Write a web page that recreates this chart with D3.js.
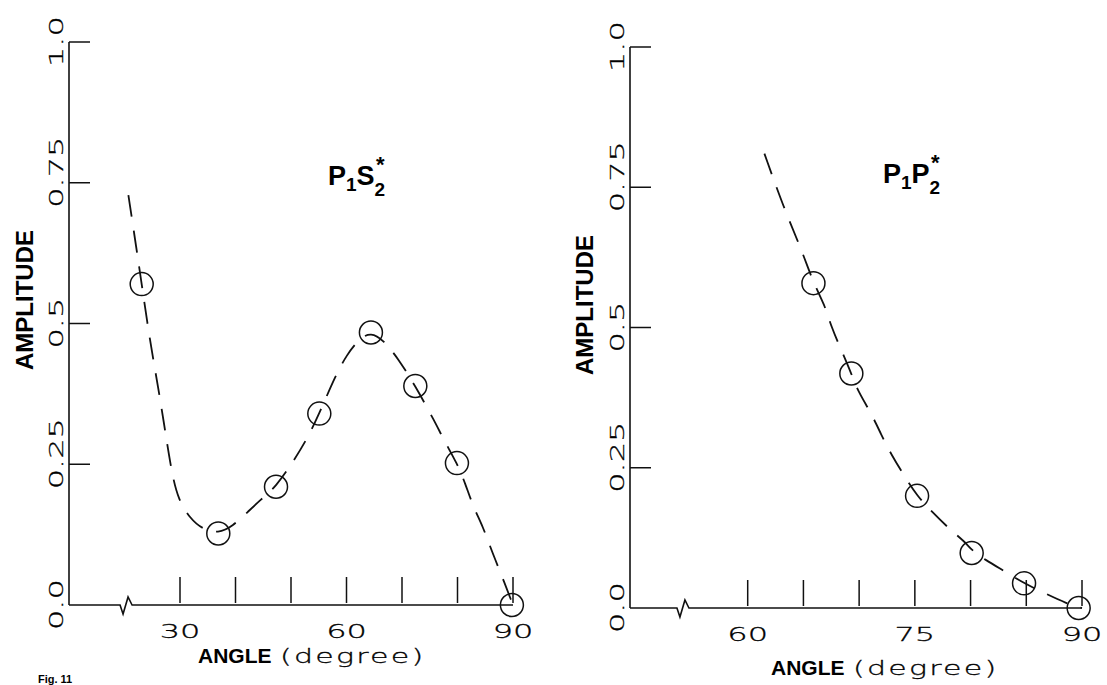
<!DOCTYPE html>
<html>
<head>
<meta charset="utf-8">
<script src="https://cdn.jsdelivr.net/npm/d3@7"></script>
<style>
  body { margin: 0; background: #fff; }
  .tick-label { font-family: "DejaVu Sans", sans-serif; font-weight: 200; font-size: 20px; fill: #000; stroke: #000; stroke-width: 0.3px; }
  .bold-label { font-family: "Liberation Sans", Arial, sans-serif; font-weight: bold; fill: #000; }
</style>
</head>
<body>
<div id="chart"></div>
<script>
// ---- left panel (P1S2*) ----
var leftPointAngle = [23.1, 36.9, 47.3, 55.1, 64.4, 72.4, 79.9, 89.8];
var leftPointAmp   = [0.57, 0.127, 0.21, 0.34, 0.484, 0.389, 0.252, 0.0];

var leftCurveAngle = [20.7, 22.2, 23.1, 24.6, 26.1, 27.3, 28.5, 29.7, 31.8, 34.0, 36.9, 39.5,
                      42.3, 44.4, 47.3, 50.4, 52.8, 55.1, 57.9, 60.0, 62.4, 64.4, 66.6, 69.3,
                      72.4, 75.9, 77.7, 79.9, 81.4, 82.8, 84.6, 86.2, 87.7, 90.0];
var leftCurveAmp   = [0.728, 0.63, 0.57, 0.468, 0.385, 0.311, 0.235, 0.187, 0.154, 0.135, 0.127, 0.14,
                      0.166, 0.186, 0.21, 0.255, 0.293, 0.34, 0.405, 0.444, 0.474, 0.484, 0.471, 0.438,
                      0.389, 0.326, 0.29, 0.252, 0.216, 0.175, 0.139, 0.095, 0.059, 0.0];

var leftXTicks  = [30, 40, 50, 60, 70, 80, 90];
var leftXLabels = [30, 60, 90];

// ---- right panel (P1P2*) ----
var rightPointAngle = [65.9, 69.3, 75.2, 80.1, 84.8, 89.7];
var rightPointAmp   = [0.579, 0.418, 0.2, 0.098, 0.044, 0.0];

var rightCurveAngle = [61.5, 63.2, 64.85, 65.9, 66.9, 67.5, 68.4, 69.3, 69.9, 71.1, 72.0, 72.9,
                       74.1, 75.2, 76.5, 78.2, 79.5, 80.1, 81.3, 83.1, 84.8, 86.7, 88.6, 90.0];
var rightCurveAmp   = [0.81, 0.715, 0.638, 0.579, 0.541, 0.501, 0.46, 0.418, 0.386, 0.347, 0.308, 0.273,
                       0.234, 0.2, 0.172, 0.139, 0.118, 0.103, 0.086, 0.065, 0.044, 0.026, 0.008, 0.0];

var rightXTicks  = [60, 65, 70, 75, 80, 85, 90];
var rightXLabels = [60, 75, 90];

// ---- shared y axis ----
var yTickValues = [0, 0.25, 0.5, 0.75, 1.0];
var yTickLabels = ["0.0", "0.25", "0.5", "0.75", "1.0"];

var svgWidth = 1107;
var svgHeight = 685;

var svg = d3.select("#chart")
  .append("svg")
  .attr("width", svgWidth)
  .attr("height", svgHeight)
  .style("background", "#fff");

function zip(a, b) {
  return a.map(function(v, i) { return { a: v, v: b[i] }; });
}

function drawPanel(p) {
  var x = d3.scaleLinear().domain(p.xDomain).range(p.xRange);
  var y = d3.scaleLinear().domain([0, 1]).range([p.y0, p.y1]);
  var g = svg.append("g");

  // y axis line + ticks pointing right
  g.append("line")
    .attr("x1", p.axisX).attr("x2", p.axisX)
    .attr("y1", y(0)).attr("y2", y(1))
    .attr("stroke", "#111").attr("stroke-width", 1.6);

  g.selectAll(".ytick").data(yTickValues.slice(1)).enter()
    .append("line")
    .attr("x1", p.axisX).attr("x2", p.axisX + 21)
    .attr("y1", d => y(d)).attr("y2", d => y(d))
    .attr("stroke", "#111").attr("stroke-width", 1.5);

  g.selectAll(".ylab").data(yTickValues).enter()
    .append("text")
    .attr("class", "tick-label")
    .attr("transform", d => `translate(${p.axisX - 6}, ${y(d) + 25}) rotate(-90) scale(1.6, 1)`)
    .attr("text-anchor", "start")
    .text((d, i) => yTickLabels[i]);

  // x axis line with a break
  var xEnd = x(90);
  var bx = x(p.breakAngle);
  var yb = y(0);
  g.append("path")
    .attr("d", `M${p.axisX},${yb}H${bx}L${bx + 3},${yb + 9}L${bx + 8},${yb - 8}L${bx + 12},${yb}H${xEnd}`)
    .attr("fill", "none").attr("stroke", "#111").attr("stroke-width", 1.6);

  g.selectAll(".xtick").data(p.xTicks).enter()
    .append("line")
    .attr("x1", d => x(d)).attr("x2", d => x(d))
    .attr("y1", yb - 2).attr("y2", yb - 28)
    .attr("stroke", "#111").attr("stroke-width", 1.5);

  g.selectAll(".xlab").data(p.xLabels).enter()
    .append("text")
    .attr("class", "tick-label")
    .attr("transform", d => `translate(${x(d)}, ${yb + 33}) scale(1.6, 1)`)
    .attr("text-anchor", "middle")
    .text(d => d);

  // dashed fitted curve
  var line = d3.line()
    .x(d => x(d.a))
    .y(d => y(d.v))
    .curve(d3.curveBasis);

  g.append("path")
    .datum(zip(p.curveAngle, p.curveAmp))
    .attr("d", line)
    .attr("fill", "none")
    .attr("stroke", "#111")
    .attr("stroke-width", 1.8)
    .attr("stroke-dasharray", "22,14");

  // open circles for the measured points
  g.selectAll(".pt").data(zip(p.pointAngle, p.pointAmp)).enter()
    .append("circle")
    .attr("cx", d => x(d.a))
    .attr("cy", d => y(d.v))
    .attr("r", 11.5)
    .attr("fill", "none")
    .attr("stroke", "#111")
    .attr("stroke-width", 1.5);

  // axis titles
  g.append("text")
    .attr("class", "bold-label")
    .attr("transform", `translate(${p.ampX}, ${p.ampY}) rotate(-90)`)
    .attr("text-anchor", "middle")
    .style("font-size", "24px")
    .text("AMPLITUDE");

  g.append("text")
    .attr("class", "bold-label")
    .attr("x", p.angleX).attr("y", p.angleY)
    .style("font-size", "21px")
    .text("ANGLE");

  g.append("text")
    .attr("class", "tick-label")
    .attr("transform", `translate(${p.angleX + 82}, ${p.angleY}) scale(1.5, 1)`)
    .style("letter-spacing", "1.5px")
    .text("(degree)");

  // panel title with sub/superscripts
  var t = g.append("text")
    .attr("class", "bold-label")
    .attr("x", p.titleX).attr("y", p.titleY)
    .style("font-size", "27px");
  t.append("tspan").text(p.title[0]);
  t.append("tspan").attr("dy", 6).style("font-size", "19px").text("1");
  t.append("tspan").attr("dy", -6).text(p.title[1]);
  t.append("tspan").attr("dy", 11).style("font-size", "19px").text("2");
  g.append("text")
    .attr("class", "bold-label")
    .attr("x", p.titleX + p.starDx).attr("y", p.titleY - 13)
    .style("font-size", "22px")
    .text("*");
}

drawPanel({
  axisX: 69, y0: 605, y1: 42,
  xDomain: [30, 90], xRange: [180, 513], breakAngle: 19.2,
  xTicks: leftXTicks, xLabels: leftXLabels,
  curveAngle: leftCurveAngle, curveAmp: leftCurveAmp,
  pointAngle: leftPointAngle, pointAmp: leftPointAmp,
  ampX: 33, ampY: 300, angleX: 198, angleY: 663,
  title: ["P", "S"], titleX: 328, titleY: 185, starDx: 48
});

drawPanel({
  axisX: 630, y0: 608, y1: 47,
  xDomain: [60, 90], xRange: [747.7, 1082], breakAngle: 53.65,
  xTicks: rightXTicks, xLabels: rightXLabels,
  curveAngle: rightCurveAngle, curveAmp: rightCurveAmp,
  pointAngle: rightPointAngle, pointAmp: rightPointAmp,
  ampX: 593, ampY: 305, angleX: 771, angleY: 675,
  title: ["P", "P"], titleX: 883, titleY: 183, starDx: 48
});

// figure caption, clipped by the page edge in the scan
svg.append("text")
  .attr("class", "bold-label")
  .attr("x", 38).attr("y", 683)
  .style("font-size", "11px")
  .attr("fill", "#666")
  .text("Fig. 11");
</script>
</body>
</html>
